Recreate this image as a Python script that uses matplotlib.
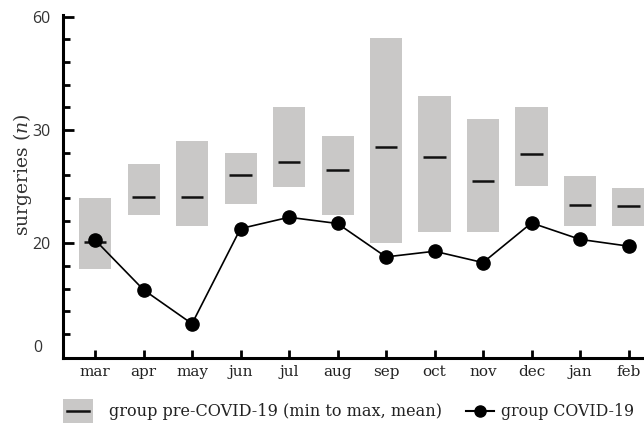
import matplotlib
matplotlib.use('Agg')
import matplotlib.pyplot as plt
import numpy as np
from matplotlib.patches import Rectangle
from matplotlib.lines import Line2D

months = ['mar', 'apr', 'may', 'jun', 'jul', 'aug', 'sep', 'oct', 'nov', 'dec', 'jan', 'feb']
pre_min = [17.7, 22.5, 21.5, 23.5, 25.0, 22.5, 20.0, 21.0, 21.0, 25.1, 21.5, 21.5]
pre_max = [24.0, 27.0, 29.0, 28.0, 32.0, 29.5, 38.1, 33.0, 31.0, 32.0, 25.9, 24.9]
pre_mean = [20.1, 24.1, 24.1, 26.0, 27.15, 26.45, 28.5, 27.6, 25.5, 27.85, 23.4, 23.3]
covid = [20.3, 15.9, 12.9, 21.3, 22.3, 21.75, 18.8, 19.3, 18.3, 21.8, 20.35, 19.75]
ytick_vals = [20, 30, 40]
ytick_labels = ['20', '30', '60']
ybottom_label = '0'
legend_labels = ['group pre-COVID-19 (min to max, mean)', 'group COVID-19']

W, H = 644, 425
plt.rcParams['mathtext.fontset'] = 'dejavuserif'
fig = plt.figure(figsize=(W / 100, H / 100), dpi=100)
ax = fig.add_axes([63 / W, (H - 358.3) / H, (652.75 - 63) / W, (358.3 - 14.5) / H])

x = np.arange(len(months))
box_color = '#c9c8c7'
lo = np.array(pre_min)
hi = np.array(pre_max)
ax.bar(x, hi - lo, bottom=lo, width=0.66, color=box_color, zorder=1)
ax.hlines(pre_mean, x - 0.235, x + 0.235, color='#111111', lw=1.8, zorder=2)
ax.plot(x, covid, '-o', color='black', ms=9.5, lw=1.2, zorder=3)

ax.set_xlim(-0.66, 11.5)
ax.set_ylim(9.85, 40.2)

for s in ['top', 'right']:
    ax.spines[s].set_visible(False)
for s in ['left', 'bottom']:
    ax.spines[s].set_linewidth(2.2)
    ax.spines[s].set_color('black')
    ax.spines[s].set_capstyle('projecting')

ax.set_xticks(x)
ax.set_xticklabels(months, fontfamily='DejaVu Serif', fontsize=11, color='#222222')
ax.tick_params(axis='x', direction='in', length=6, width=2, pad=5)

ax.set_yticks(ytick_vals)
ax.set_yticklabels(ytick_labels, fontfamily='Open Sans', fontsize=11.5, color='#333333')
minor = [v for v in range(12, 40, 2) if v not in ytick_vals]
ax.set_yticks(minor, minor=True)
ax.tick_params(axis='y', which='major', direction='in', length=8, width=2, pad=9)
ax.tick_params(axis='y', which='minor', direction='in', length=5, width=2)
ax.text(-0.035, 10.8, ybottom_label, transform=ax.get_yaxis_transform(), ha='right', va='center',
        fontfamily='Open Sans', fontsize=11.5, color='#333333')

fig.text(22 / W, 1 - 175 / H, r'surgeries ($\mathit{n}$)', rotation=90, ha='center', va='center',
         fontfamily='DejaVu Serif', fontsize=13.5, color='#333333')

# legend
fig.patches.append(Rectangle((63 / W, 1 - 423 / H), 30 / W, 24 / H, transform=fig.transFigure,
                             facecolor=box_color, edgecolor='none'))
fig.lines.append(Line2D([67 / W, 89 / W], [1 - 411 / H] * 2, transform=fig.transFigure, color='#111111', lw=1.8))
fig.text(109 / W, 1 - 411 / H, legend_labels[0], ha='left', va='center', fontfamily='DejaVu Serif',
         fontsize=11.6, color='#222222')
fig.lines.append(Line2D([466 / W, 494 / W], [1 - 411 / H] * 2, transform=fig.transFigure, color='black', lw=1.5))
fig.lines.append(Line2D([480 / W], [1 - 411 / H], transform=fig.transFigure, color='black', marker='o', ms=8, lw=0))
fig.text(501 / W, 1 - 411 / H, legend_labels[1], ha='left', va='center', fontfamily='DejaVu Serif',
         fontsize=11.3, color='#222222')

fig.savefig('out.png', dpi=100)
